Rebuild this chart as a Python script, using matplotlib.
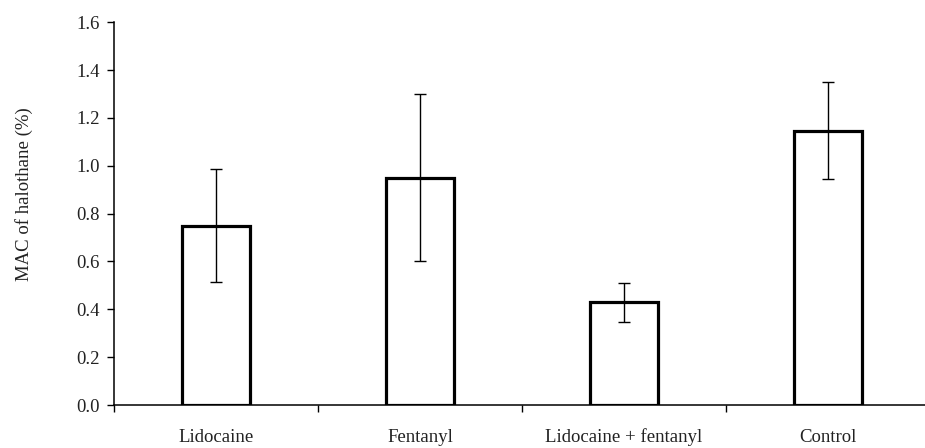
import matplotlib
matplotlib.use("Agg")
import matplotlib.pyplot as plt
import numpy as np

categories = ["Lidocaine", "Fentanyl", "Lidocaine + fentanyl", "Control"]
means = [0.75, 0.95, 0.43, 1.146]
errors = [0.236, 0.35, 0.082, 0.203]
yticks = [0.0, 0.2, 0.4, 0.6, 0.8, 1.0, 1.2, 1.4, 1.6]

plt.rcParams['font.family'] = ['Liberation Serif', 'DejaVu Serif']

fig = plt.figure(figsize=(9.25, 4.48), dpi=100)
ax = fig.add_axes([114/925, 1-405/448, (930-114)/925, (405-22.3)/448])

x = np.arange(len(categories)) + 0.5
ax.bar(x, means, width=0.335, facecolor='white', edgecolor='black', linewidth=2.3, zorder=2)
ax.errorbar(x, means, yerr=errors, fmt='none', ecolor='black', elinewidth=1.0,
            capsize=4, capthick=1.0, zorder=3)

ax.set_xlim(0, len(categories))
ax.set_ylim(0, 1.6)
ax.set_yticks(yticks)
ax.set_yticklabels([f"{v:.1f}" for v in yticks], fontsize=13.5, color='#222222')
ax.set_xticks(np.arange(len(categories) + 1))
ax.set_xticklabels([])
ax.set_xticks(x, minor=True)
ax.set_xticklabels(categories, minor=True, fontsize=13.5, color='#222222')
ax.tick_params(axis='x', which='minor', length=0, pad=17)
ax.tick_params(axis='x', which='major', direction='out', length=5, width=1.0)
ax.tick_params(axis='y', direction='out', length=5, width=1.0, pad=5)

for s in ['top', 'right']:
    ax.spines[s].set_visible(False)
for s in ['left', 'bottom']:
    ax.spines[s].set_linewidth(1.1)

ax.set_ylabel("MAC of halothane (%)", fontsize=13.5, color='#222222')
ax.yaxis.set_label_coords(-0.112 + 10/816, 0.55)

fig.savefig("out.png", dpi=100)
